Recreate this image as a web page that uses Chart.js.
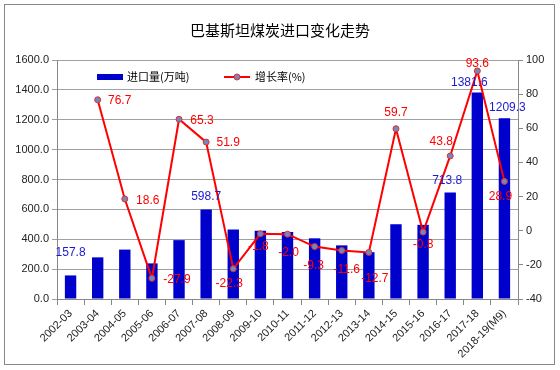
<!DOCTYPE HTML>
<html>
<head>
<meta charset="utf-8">
<title>巴基斯坦煤炭进口变化走势</title>
<style>
  body { margin: 0; background: #fff; }
</style>
</head>
<body>
<canvas id="myChart" width="560" height="370"></canvas>
<script src="https://cdn.jsdelivr.net/npm/chart.js@4"></script>
<script>
  // 年度 (财年)
  const labels = ['2002-03', '2003-04', '2004-05', '2005-06', '2006-07', '2007-08', '2008-09', '2009-10',
                  '2010-11', '2011-12', '2012-13', '2013-14', '2014-15', '2015-16', '2016-17', '2017-18', '2018-19(M9)'];
  // 进口量(万吨)
  const imports = [157.8, 278.8, 330.7, 238.4, 394.1, 598.7, 465.2, 456.8,
                   447.7, 406.1, 359.0, 313.4, 500.5, 496.5, 713.8, 1381.6, 1209.3];
  // 增长率(%)
  const growth = [null, 76.7, 18.6, -27.9, 65.3, 51.9, -22.3, -1.8,
                  -2.0, -9.3, -11.6, -12.7, 59.7, -0.8, 43.8, 93.6, 28.9];
  const titleText = '巴基斯坦煤炭进口变化走势';

  const tickFont = { family: 'Liberation Sans', size: 11 };
  const cjk = '"Noto Sans CJK SC", sans-serif';

  // label offsets from the point / bar top (style only)
  const lineLabelOff = [null, [22, 1], [23, 2], [25, 1], [23, 1], [22, 1], [-4, 15], [-2, 13],
                        [1, 19], [-1, 19], [5, 19], [6, 26], [0, -16], [0, 13], [-9, -14], [0, -7], [-4, 15]];
  const barLabelOff = { 0: [0, -23], 5: [0, -13], 14: [-3, -12], 15: [-8, -10], 16: [3, -11] };

  const decor = {
    id: 'decor',
    beforeDraw(chart) {
      const ctx = chart.ctx;
      ctx.save();
      ctx.fillStyle = '#fff';
      ctx.fillRect(0, 0, chart.width, chart.height);
      ctx.strokeStyle = '#888';
      ctx.lineWidth = 1;
      ctx.strokeRect(4.5, 4.5, 550, 360);
      ctx.restore();
    },
    afterDatasetsDraw(chart) {
      const ctx = chart.ctx;
      ctx.save();
      ctx.font = '12px "Liberation Sans"';
      ctx.textAlign = 'center';
      ctx.textBaseline = 'middle';
      // bar values
      const bars = chart.getDatasetMeta(0).data;
      ctx.fillStyle = '#1a1ad0';
      for (const k in barLabelOff) {
        const b = bars[k], o = barLabelOff[k];
        ctx.fillText(imports[k].toFixed(1), b.x + o[0], b.y + o[1]);
      }
      // growth values
      const pts = chart.getDatasetMeta(1).data;
      ctx.fillStyle = '#ff0000';
      for (let i = 0; i < growth.length; i++) {
        if (growth[i] === null) continue;
        const p = pts[i], o = lineLabelOff[i];
        ctx.fillText(growth[i].toFixed(1), p.x + o[0], p.y + o[1]);
      }
      ctx.restore();
    },
    afterDraw(chart) {
      const ctx = chart.ctx;
      ctx.save();
      // title
      ctx.fillStyle = '#000';
      ctx.font = '15px ' + cjk;
      ctx.textAlign = 'center';
      ctx.textBaseline = 'middle';
      ctx.fillText(titleText, 280, 30);
      // legend inside the plot
      const ds = chart.data.datasets;
      ctx.font = '11px ' + cjk;
      ctx.textAlign = 'left';
      ctx.fillStyle = ds[0].backgroundColor;
      ctx.fillRect(97, 74, 26, 6);
      ctx.fillStyle = '#000';
      ctx.fillText(ds[0].label, 127, 77);
      ctx.strokeStyle = ds[1].borderColor;
      ctx.lineWidth = 2;
      ctx.beginPath();
      ctx.moveTo(224, 77);
      ctx.lineTo(250, 77);
      ctx.stroke();
      ctx.fillStyle = ds[1].pointBackgroundColor;
      ctx.strokeStyle = ds[1].pointBorderColor;
      ctx.lineWidth = 1;
      ctx.beginPath();
      ctx.arc(237, 77, 3, 0, Math.PI * 2);
      ctx.fill();
      ctx.stroke();
      ctx.fillStyle = '#000';
      ctx.fillText(ds[1].label, 255, 77);
      ctx.restore();
    }
  };

  const config = {
    data: {
      labels: labels,
      datasets: [{
        type: 'bar',
        label: '进口量(万吨)',
        data: imports,
        backgroundColor: '#0000cc',
        barPercentage: 0.42,
        categoryPercentage: 1,
        yAxisID: 'y',
        order: 2
      }, {
        type: 'line',
        label: '增长率(%)',
        data: growth,
        borderColor: '#ff0000',
        borderWidth: 2,
        tension: 0,
        pointRadius: 3,
        pointBackgroundColor: '#7088c0',
        pointBorderColor: '#e03030',
        pointBorderWidth: 1,
        yAxisID: 'y1',
        order: 1
      }]
    },
    options: {
      responsive: false,
      devicePixelRatio: 1,
      animation: false,
      layout: { padding: { top: 60, left: 0, right: 0, bottom: 0 } },
      plugins: {
        legend: { display: false },
        title: { display: false },
        tooltip: { enabled: false }
      },
      scales: {
        x: {
          grid: { offset: true, drawOnChartArea: false, tickLength: 6, color: '#888' },
          border: { color: '#888' },
          ticks: { maxRotation: 45, minRotation: 45, autoSkip: false, font: tickFont, color: '#222', padding: 2 },
          afterFit(s) { s.height = 71; }
        },
        y: {
          position: 'left',
          min: 0,
          max: 1600,
          ticks: { stepSize: 200, font: tickFont, color: '#222', callback: v => v.toFixed(1) },
          grid: { color: '#a0a0a0', tickLength: 5 },
          border: { color: '#888' },
          afterFit(s) { s.width = 57; }
        },
        y1: {
          position: 'right',
          min: -40,
          max: 100,
          ticks: { stepSize: 20, font: tickFont, color: '#222' },
          grid: { drawOnChartArea: false, tickLength: 5, color: '#888' },
          border: { color: '#888' },
          afterFit(s) { s.width = 42; }
        }
      }
    },
    plugins: [decor]
  };

  const myChart = new Chart(document.getElementById('myChart'), config);
</script>
</body>
</html>
